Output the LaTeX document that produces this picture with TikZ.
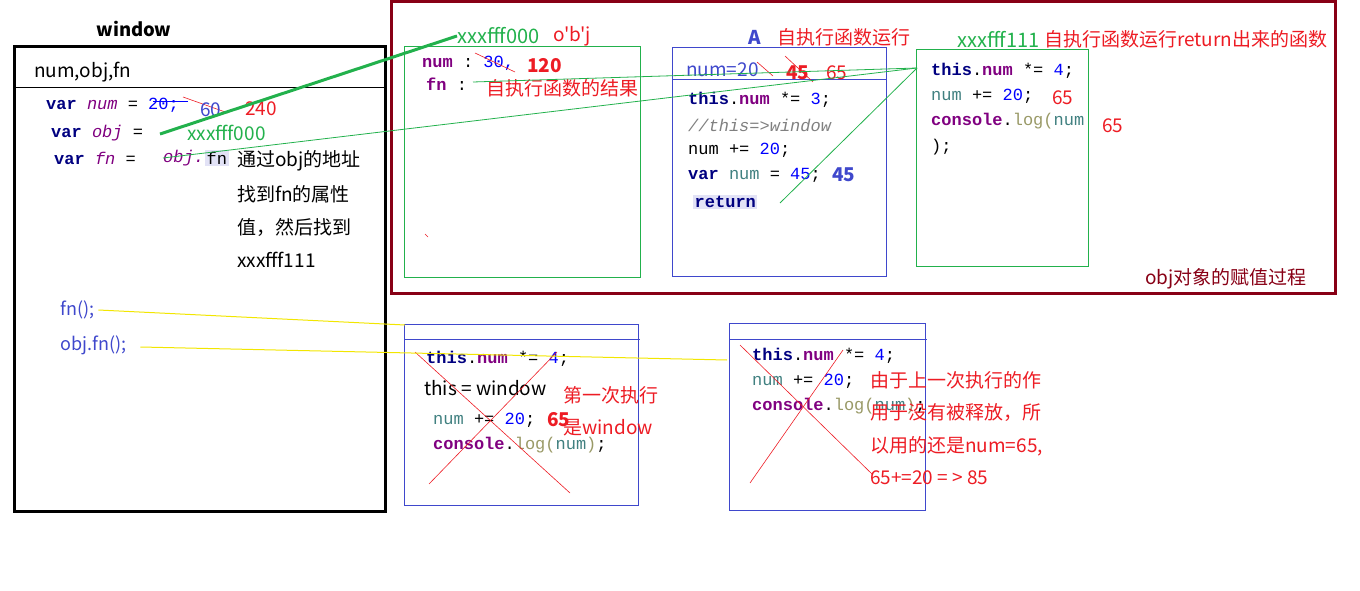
\documentclass[tikz,border=0pt]{standalone}
\usepackage{fontspec}
\setmainfont{Noto Sans CJK SC}
\setmonofont{Liberation Mono}
\newfontfamily\rawsans{Noto Sans CJK SC}
\usetikzlibrary{calc}

\definecolor{kwc}{HTML}{000080}
\definecolor{prc}{HTML}{800080}
\definecolor{numc}{HTML}{0000FF}
\definecolor{varc}{HTML}{408080}
\definecolor{logc}{HTML}{999966}
\definecolor{grn}{HTML}{22B14C}
\definecolor{rd}{HTML}{ED1C24}
\definecolor{bl}{HTML}{3F48CC}
\definecolor{mar}{HTML}{880015}
\definecolor{hl}{HTML}{E2E2F6}
\definecolor{ylw}{HTML}{F2E600}

\newcommand\codefont{\ttfamily\fontsize{17}{17}\selectfont}
\newcommand\lblfont{\fontsize{19}{19}\selectfont}
\newcommand\cKw[1]{\textcolor{kwc}{\textbf{#1}}}
\newcommand\cPr[1]{\textcolor{prc}{\textbf{#1}}}
\newcommand\cNum[1]{\textcolor{numc}{#1}}
\newcommand\cVar[1]{\textcolor{varc}{#1}}
\newcommand\cLog[1]{\textcolor{logc}{#1}}

\tikzset{
  code/.style={anchor=west,inner sep=0pt,font=\codefont},
  lbl/.style={anchor=west,inner sep=0pt,font=\lblfont},
  redlbl/.style={lbl,text=rd},
  grnlbl/.style={lbl,text=grn},
  strike/.style={rd,line width=0.6pt},
  cross/.style={rd,line width=0.6pt},
  link/.style={grn,line width=0.8pt}
}

\begin{document}
\begin{tikzpicture}[x=1pt,y=-1pt]
\useasboundingbox (0,0) rectangle (1360,591);

% window
\node[font=\bfseries\fontsize{18.5}{18.5}\selectfont] (wtitle) at (134,29) {window};
\draw[line width=3pt] (14,47) rectangle (385,511);
\draw[line width=0.8pt] (14,87) -- (385,87);
\node[lbl] (wvars) at (34,72) {num,obj,fn};

\node[code] (wnum) at (46,105) {\cKw{var} \textcolor{prc}{\textit{num}} = \cNum{20;}};
\draw[numc,line width=0.8pt] (153,101) -- (188,101);
\draw[strike] (183,97) -- (228,113);
\node[lbl,text=bl] (w60) at (200,110) {60};
\node[redlbl] (w240) at (245,109) {240};

\node[code] (wobj) at (51,133) {\cKw{var} \textcolor{prc}{\textit{obj}} =};
\node[grnlbl] (waddr) at (187,133) {xxxfff000};
\node[code] (wfn) at (54,158) {\cKw{var} \textcolor{prc}{\textit{fn}} =};
\node[code,text=prc] (wobjdot) at (163,158) {\textit{obj.}};
\node[code,fill=hl,inner sep=1.5pt] (wfnhl) at (205,158) {fn};

\node[lbl] (note1) at (237,161) {通过obj的地址};
\node[lbl] (note2) at (237,194) {找到fn的属性};
\node[lbl] (note3) at (237,227) {值，然后找到};
\node[lbl] (note4) at (237,260) {xxxfff111};

\node[lbl,text=bl,font=\fontsize{18}{18}\selectfont] (call1) at (60,310) {fn();};
\node[lbl,text=bl,font=\fontsize{18}{18}\selectfont] (call2) at (60,345) {obj.fn();};

% obj assignment frame
\draw[mar,line width=3pt] (391,2) rectangle (1335,293);
\node[lbl,text=mar] (frametitle) at (1145,279) {obj对象的赋值过程};

% object xxxfff000
\draw[grn,line width=0.8pt] (404,46) rectangle (640,277);
\node[grnlbl,font=\fontsize{20}{20}\selectfont] (oaddr) at (457,36) {xxxfff000};
\node[redlbl,font=\rawsans\lblfont] (oname) at (553,36) {o'b'j};
\node[code] (onum) at (422,63) {\cPr{num} : \cNum{30,}};
\draw[strike] (475,53) -- (515,72);
\node[redlbl,font=\bfseries\lblfont] (o120) at (527,66) {120};
\node[code] (ofn) at (426,84) {\cPr{fn} :};
\node[redlbl] (ores) at (486,88) {自执行函数的结果};
\draw[strike] (425,234) -- (428,237);

% self executing function A
\draw[bl,line width=0.8pt] (672,47) rectangle (886,276);
\draw[bl,line width=0.8pt] (672,79) -- (886,79);
\node[lbl,text=bl,font=\bfseries\lblfont] (aname) at (748,37) {A};
\node[redlbl] (atitle) at (777,37) {自执行函数运行};
\node[lbl,text=bl] (anum) at (686,70) {num=20};
\draw[strike] (757,62) -- (773,76);
\draw[strike] (785,56) -- (813,82);
\node[redlbl,font=\bfseries\lblfont] (a45) at (786,73) {45};
\node[redlbl] (a65) at (826,73) {65};
\node[code] (aline1) at (688,100) {\cKw{this}.\cPr{num} *= \cNum{3};};
\node[code,text=gray] (aline2) at (688,125) {\textit{//this=>window}};
\node[code] (aline3) at (688,150) {num += \cNum{20};};
\node[code] (aline4) at (688,175) {\cKw{var} \cVar{num} = \cNum{45};};
\node[lbl,text=bl,font=\bfseries\lblfont] (a45b) at (832,175) {45};
\node[code,fill=hl,inner sep=1.5pt] (aret) at (693,202) {\cKw{return}};
\coordinate (retend) at (780,203);

% returned function xxxfff111
\draw[grn,line width=0.8pt] (916,49) rectangle (1088,266);
\coordinate (fbox) at (917,68);
\node[grnlbl,font=\fontsize{20}{20}\selectfont] (faddr) at (957,39) {xxxfff111};
\node[redlbl] (ftitle) at (1044,39) {自执行函数运行return出来的函数};
\node[code] (fline1) at (931,71) {\cKw{this}.\cPr{num} *= \cNum{4};};
\node[code] (fline2) at (931,96) {\cVar{num} += \cNum{20};};
\node[redlbl] (f65a) at (1052,98) {65};
\node[code] (fline3) at (931,121) {\cPr{console}.\cLog{log(}\cVar{num}};
\node[redlbl] (f65b) at (1102,126) {65};
\node[code] (fline4) at (931,147) {);};

% links
\draw[grn,line width=3pt] (160,134) -- (oaddr.west);
\draw[link] (wobjdot.west) -- (fbox);
\draw[link] (473,82) -- (fbox);
\draw[link] (retend) -- (fbox);

% first call
\draw[bl,line width=0.8pt] (404,324) rectangle (638,505);
\draw[bl,line width=0.8pt] (404,339) -- (640,339);
\node[code] (c1line1) at (426,359) {\cKw{this}.\cPr{num} *= \cNum{4};};
\node[lbl] (c1this) at (424,388) {this = window};
\node[redlbl] (c1note1) at (563,395) {第一次执行};
\node[code] (c1line2) at (433,420) {\cVar{num} += \cNum{20};};
\node[redlbl,font=\bfseries\lblfont] (c165) at (547,420) {65};
\node[redlbl] (c1note2) at (563,428) {是window};
\node[code] (c1line3) at (433,445) {\cPr{console}.\cLog{log(}\cVar{num}\cLog{)};};
\draw[cross] (415,352) -- (570,493);
\draw[cross] (429,484) -- (557,352);

% second call
\draw[bl,line width=0.8pt] (729,323) rectangle (925,510);
\draw[bl,line width=0.8pt] (730,339) -- (927,339);
\node[code] (c2line1) at (752,356) {\cKw{this}.\cPr{num} *= \cNum{4};};
\node[code] (c2line2) at (752,381) {\cVar{num} += \cNum{20};};
\node[code] (c2line3) at (752,406) {\cPr{console}.\cLog{log(}\cVar{num}\cLog{)};};
\draw[cross] (740,345) -- (873,475);
\draw[cross] (750,483) -- (843,350);
\node[redlbl] (c2note1) at (870,380) {由于上一次执行的作};
\node[redlbl] (c2note2) at (870,413) {用于没有被释放，所};
\node[redlbl] (c2note3) at (870,446) {以用的还是num=65,};
\node[redlbl] (c2note4) at (870,478) {65+=20 = > 85};

% calls
\draw[ylw,line width=1pt] (call1.east) ++(4,0) -- (405,325);
\draw[ylw,line width=1pt] (call2.east) ++(14,2) -- (727,360);

\end{tikzpicture}
\end{document}
